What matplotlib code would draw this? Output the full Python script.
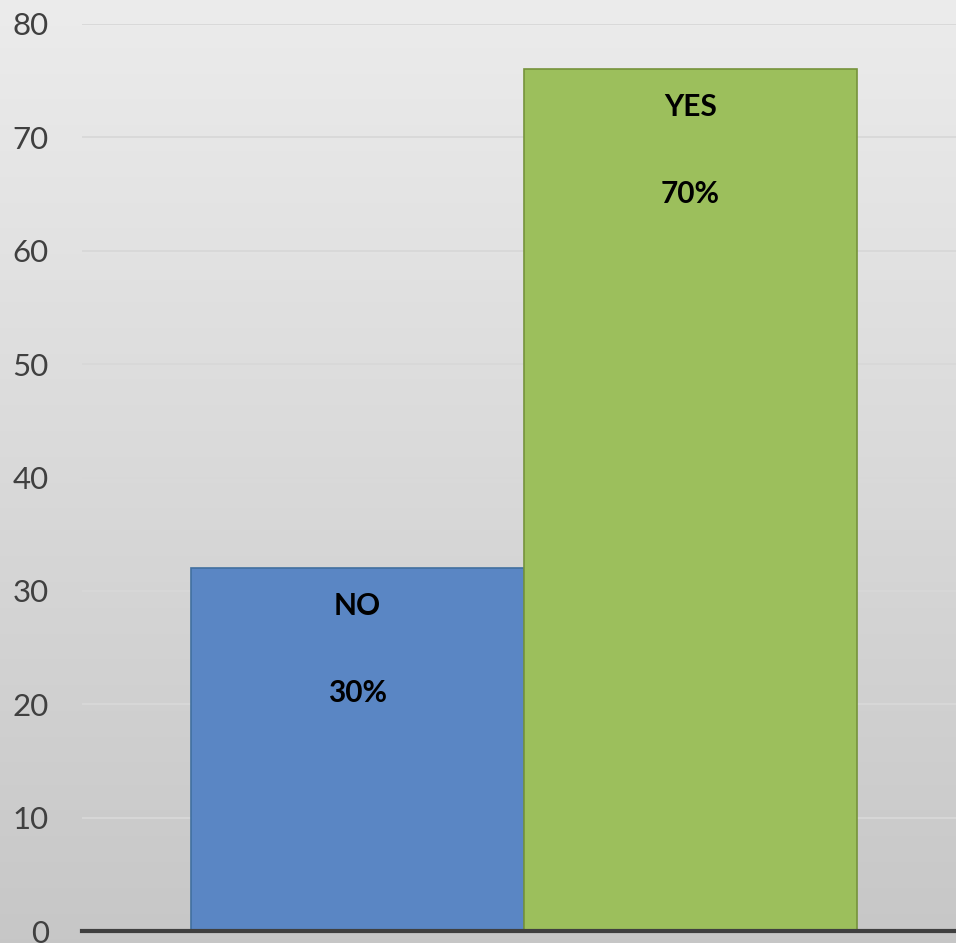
import matplotlib
matplotlib.use("Agg")
import matplotlib.pyplot as plt
import numpy as np

categories = ["NO", "YES"]
values = [32, 76]
pct_labels = ["30%", "70%"]
yticks = [0, 10, 20, 30, 40, 50, 60, 70, 80]

bar_colors = ["#5a86c4", "#9cbf5c"]
edge_colors = ["#41709f", "#76933c"]

plt.rcParams['font.family'] = ['Lato', 'DejaVu Sans']

fig = plt.figure(figsize=(9.56, 9.43), dpi=100)

# background gradient
bg = fig.add_axes([0, 0, 1, 1], zorder=-10)
grad = np.linspace(0, 1, 256).reshape(-1, 1)
top = np.array([0.925, 0.925, 0.925])
bot = np.array([0.78, 0.78, 0.78])
img = top[None, None, :] * (1 - grad[:, :, None]) + bot[None, None, :] * grad[:, :, None]
bg.imshow(img, aspect='auto', extent=[0, 1, 0, 1], origin='upper')
bg.set_axis_off()

px = 1 / 956
py = 1 / 943
ax = fig.add_axes([82 * px, 1 - 931 * py, 1 - 82 * px, (931 - 24) * py])
ax.patch.set_alpha(0)

x = np.arange(len(categories))
bars = ax.bar(x, values, width=1.0, color=bar_colors, edgecolor=edge_colors,
              linewidth=1.2, zorder=3)

ax.set_ylim(0, 80)
ax.set_xlim(-0.827, 1.797)
ax.set_yticks(yticks)
ax.set_yticklabels([str(t) for t in yticks], fontsize=22.5, color="#404040")
ax.tick_params(axis='y', length=0, pad=24)
ax.set_xticks([])
ax.yaxis.grid(True, color="#d8d8d8", linewidth=1.3, zorder=0)
ax.set_axisbelow(True)
for s in ["top", "right", "left"]:
    ax.spines[s].set_visible(False)
ax.spines["bottom"].set_color("#404040")
ax.spines["bottom"].set_linewidth(3.0)
ax.spines["bottom"].set_zorder(5)

for xi, v, cat, pl in zip(x, values, categories, pct_labels):
    ax.annotate(cat, (xi, v), xytext=(0, -27), textcoords='offset points',
                ha='center', va='center', fontsize=21.5, fontweight='bold', color='black', zorder=6)
    ax.annotate(pl, (xi, v), xytext=(0, -89.5), textcoords='offset points',
                ha='center', va='center', fontsize=21.5, fontweight='bold', color='black', zorder=6)

fig.savefig("out.png", dpi=100)
